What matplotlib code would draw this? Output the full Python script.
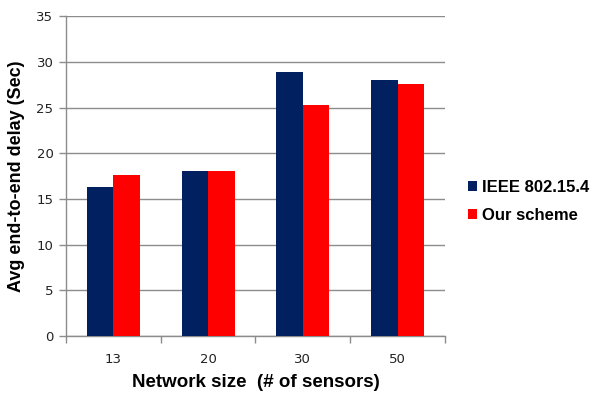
import matplotlib
matplotlib.use("Agg")
import matplotlib.pyplot as plt
from matplotlib.ticker import FixedLocator, NullFormatter
import numpy as np

categories = ["13", "20", "30", "50"]
ieee = [16.3, 18.0, 28.9, 28.0]
ours = [17.6, 18.1, 25.3, 27.6]
series_names = ["IEEE 802.15.4", "Our scheme"]
y_ticks = [0, 5, 10, 15, 20, 25, 30, 35]

navy = "#002060"
red = "#FF0000"
grid_c = "#8c8c8c"
label_font = ["Liberation Sans", "DejaVu Sans"]

fig = plt.figure(figsize=(6.02, 3.93), dpi=100)
ax = fig.add_axes([0.1096, 0.145, 0.6294, 0.814])

x = np.arange(len(categories))
w = 0.28
b1 = ax.bar(x - w / 2, ieee, w, color=navy, label=series_names[0], zorder=3)
b2 = ax.bar(x + w / 2, ours, w, color=red, label=series_names[1], zorder=3)

ax.set_xlim(-0.5, len(categories) - 0.5)
ax.set_ylim(0, 35)
ax.set_yticks(y_ticks)
ax.yaxis.grid(True, color=grid_c, linewidth=1.0, zorder=0)
ax.set_axisbelow(True)

ax.set_xticks(x)
ax.set_xticklabels(categories)
ax.xaxis.set_minor_locator(FixedLocator(np.arange(-0.5, len(categories), 1.0)))
ax.xaxis.set_minor_formatter(NullFormatter())
ax.tick_params(axis="x", which="major", length=0, labelsize=9.5, colors="#222222", pad=12)
ax.tick_params(axis="x", which="minor", length=5, color=grid_c, width=1)
ax.tick_params(axis="y", length=5, color=grid_c, width=1, labelsize=9.5,
               labelcolor="#222222", pad=4)

for s in ["top", "right"]:
    ax.spines[s].set_visible(False)
for s in ["left", "bottom"]:
    ax.spines[s].set_color(grid_c)
    ax.spines[s].set_linewidth(1.0)

ax.set_xlabel("Network size  (# of sensors)", fontsize=13.5, fontweight="bold",
              family=label_font, labelpad=6)
ax.set_ylabel("Avg end-to-end delay (Sec)", fontsize=13, fontweight="bold",
              family=label_font, labelpad=8)

leg = fig.legend(handles=[b1, b2], labels=series_names, loc="center left",
                 bbox_to_anchor=(0.752, 0.487), frameon=False,
                 prop={"weight": "bold", "size": 12, "family": label_font},
                 handlelength=0.55, handleheight=0.55, handletextpad=0.3,
                 labelspacing=0.8)

fig.savefig("out.png", dpi=100)
